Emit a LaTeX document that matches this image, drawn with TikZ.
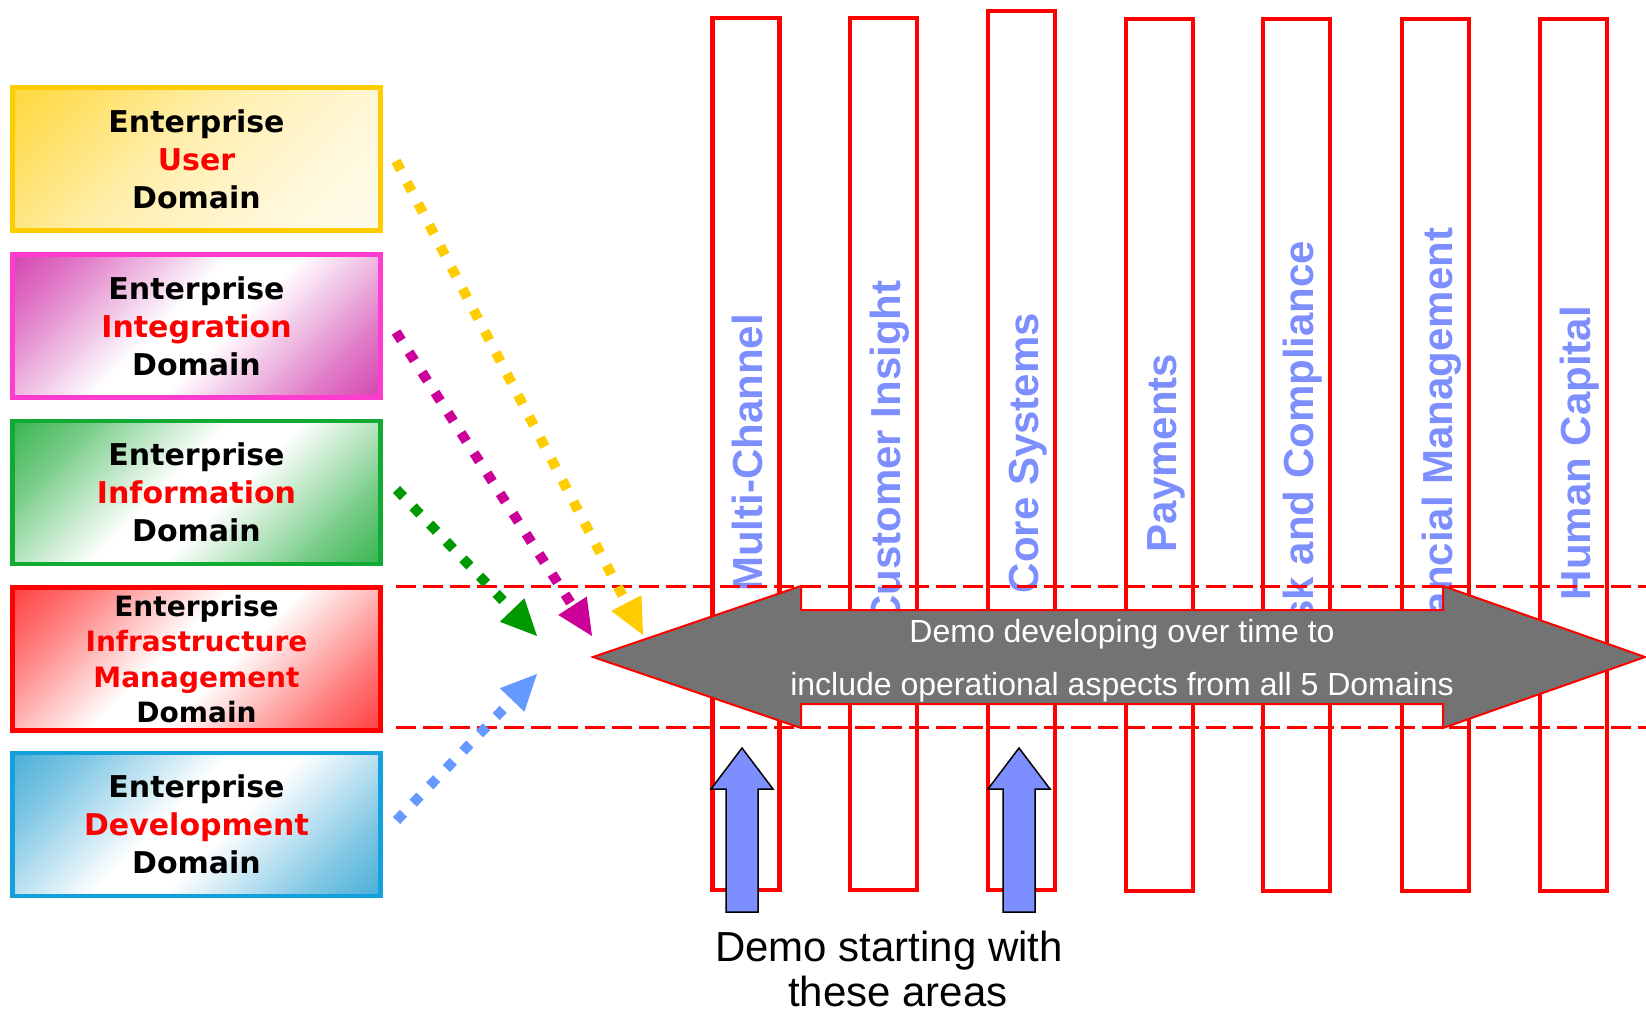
\documentclass[tikz,border=0pt]{standalone}
\usepackage{fontspec}
\setmainfont{Liberation Sans}
\newfontfamily\domfont{DejaVu Sans}
\usetikzlibrary{arrows.meta}
\definecolor{colred}{RGB}{255,0,0}
\definecolor{lblblue}{RGB}{125,142,255}
\definecolor{arrgray}{RGB}{115,115,115}
\definecolor{dyel}{RGB}{255,204,0}
\definecolor{dmag}{RGB}{204,0,153}
\definecolor{dgrn}{RGB}{0,153,0}
\definecolor{dblu}{RGB}{102,153,255}
\definecolor{byel}{RGB}{255,204,0}
\definecolor{bmag}{RGB}{255,60,208}
\definecolor{bgrn}{RGB}{17,170,51}
\definecolor{bred}{RGB}{255,0,0}
\definecolor{bblu}{RGB}{20,160,220}
\definecolor{syel}{RGB}{255,208,20}
\definecolor{smag}{RGB}{200,16,154}
\definecolor{sgrn}{RGB}{0,160,30}
\definecolor{sred}{RGB}{255,10,10}
\definecolor{sblu}{RGB}{22,152,205}
\colorlet{dcol}{white}
\pgfdeclareverticalshading[dcol]{boxshade}{100bp}{%
  color(0bp)=(dcol); color(8bp)=(dcol!92!white); color(25bp)=(dcol!55!white);
  color(45bp)=(white); color(55bp)=(white); color(75bp)=(dcol!55!white);
  color(92bp)=(dcol!92!white); color(100bp)=(dcol)}
\pgfdeclareverticalshading[dcol]{yelshade}{100bp}{%
  color(0bp)=(white); color(30bp)=(dcol!15!white); color(55bp)=(dcol!35!white);
  color(80bp)=(dcol!75!white); color(100bp)=(dcol)}
\begin{document}
\begin{tikzpicture}[x=1pt,y=-1pt,
  colbox/.style={draw=colred, line width=4.5pt, inner sep=0pt, minimum width=67pt},
  collabel/.style={rotate=90, anchor=base, text=lblblue, inner sep=0pt,
    font=\fontsize{42}{50}\selectfont\bfseries},
  dombox/.style={line width=4.5pt, minimum width=368pt, minimum height=143pt,
    align=center, inner sep=0pt, font=\domfont\bfseries\fontsize{30}{38}\selectfont},
  shadebox/.style 2 args={/utils/exec={\colorlet{dcol}{#1}},
    shade, shading=#2, shading angle=45},
  dotarrow/.style={line width=10pt, dash pattern=on 10pt off 14pt,
    -{Triangle[length=36pt,width=34pt,line width=0pt]}},
  guide/.style={draw=colred, line width=3pt, dash pattern=on 20pt off 7pt},
  uparrow/.style={draw=black, line width=1.5pt, fill=lblblue, line join=miter},
  arrtext/.style={anchor=base, text=white, inner sep=0pt, font=\fontsize{32}{38}\selectfont},
  bottext/.style={anchor=base, inner sep=0pt, font=\fontsize{42}{48}\selectfont}
]
\useasboundingbox[fill=white] (0,0) rectangle (1646,1012);

% columns
\node[colbox, minimum height=872pt] (c1) at (746,454) {};
\node[colbox, minimum height=872pt] (c2) at (883.5,454) {};
\node[colbox, minimum height=879pt] (c3) at (1021.5,450.5) {};
\node[colbox, minimum height=872pt] (c4) at (1159.5,455) {};
\node[colbox, minimum height=872pt] (c5) at (1296.5,455) {};
\node[colbox, minimum height=872pt] (c6) at (1435.5,455) {};
\node[colbox, minimum height=872pt] (c7) at (1573.5,455) {};

\node[collabel] (l1) at (762.5,453) {Multi-Channel};
\node[collabel] (l2) at (900,453) {Customer Insight};
\node[collabel] (l3) at (1038,453) {Core Systems};
\node[collabel] (l4) at (1176,453) {Payments};
\node[collabel] (l5) at (1313,453) {Risk and Compliance};
\node[collabel] (l6) at (1452,453) {Financial Management};
\node[collabel] (l7) at (1590,453) {Human Capital};

% dashed guides
\coordinate (g1a) at (396,586);
\coordinate (g1b) at (1646,586);
\coordinate (g2a) at (396,727);
\coordinate (g2b) at (1646,727);
\draw[guide] (g1a) -- (g1b);
\draw[guide] (g2a) -- (g2b);

% big double arrow
\draw[draw=colred, line width=2pt, fill=arrgray, line join=miter]
  (593,657) -- (801,586) -- (801,610) -- (1443,610) -- (1443,586) -- (1645,657)
  -- (1443,728) -- (1443,704) -- (801,704) -- (801,728) -- cycle;
\node[arrtext] (t1) at (1122,642) {Demo developing over time to};
\node[arrtext] (t2) at (1122,695) {include operational aspects from all 5 Domains};

% up arrows
\draw[uparrow] (742,748) -- (773,789) -- (758,789) -- (758,912) -- (726,912)
  -- (726,789) -- (711,789) -- cycle;
\draw[uparrow] (1019,748) -- (1050,789) -- (1035,789) -- (1035,912) -- (1003,912)
  -- (1003,789) -- (988,789) -- cycle;

\node[bottext] (b1) at (889,961) {Demo starting with};
\node[bottext] (b2) at (898,1006) {these areas};

% domain boxes
\node[dombox, draw=byel, shadebox={syel}{yelshade}] (user) at (196.5,159)
  {Enterprise\\\textcolor{red}{User}\\Domain};
\node[dombox, draw=bmag, shadebox={smag}{boxshade}] (integ) at (196.5,326)
  {Enterprise\\\textcolor{red}{Integration}\\Domain};
\node[dombox, draw=bgrn, shadebox={sgrn}{boxshade}] (info) at (196.5,492.5)
  {Enterprise\\\textcolor{red}{Information}\\Domain};
\node[dombox, draw=bred, shadebox={sred}{boxshade},
  font=\domfont\bfseries\fontsize{28}{35.5}\selectfont] (infra) at (196.5,659)
  {Enterprise\\\textcolor{red}{Infrastructure}\\\textcolor{red}{Management}\\Domain};
\node[dombox, draw=bblu, shadebox={sblu}{boxshade}] (dev) at (196.5,824.5)
  {Enterprise\\\textcolor{red}{Development}\\Domain};

% dotted arrows
\coordinate (ys) at (396,161);   \coordinate (yt) at (643,635);
\coordinate (ms) at (396,332);   \coordinate (mt) at (592,636);
\coordinate (gs) at (396.5,489.5); \coordinate (gt) at (537,636);
\coordinate (bs) at (396.5,820.5); \coordinate (bt) at (537,674);
\draw[dotarrow, draw=dyel] (ys) -- (yt);
\draw[dotarrow, draw=dmag] (ms) -- (mt);
\draw[dotarrow, draw=dgrn] (gs) -- (gt);
\draw[dotarrow, draw=dblu] (bs) -- (bt);
\end{tikzpicture}
\end{document}
